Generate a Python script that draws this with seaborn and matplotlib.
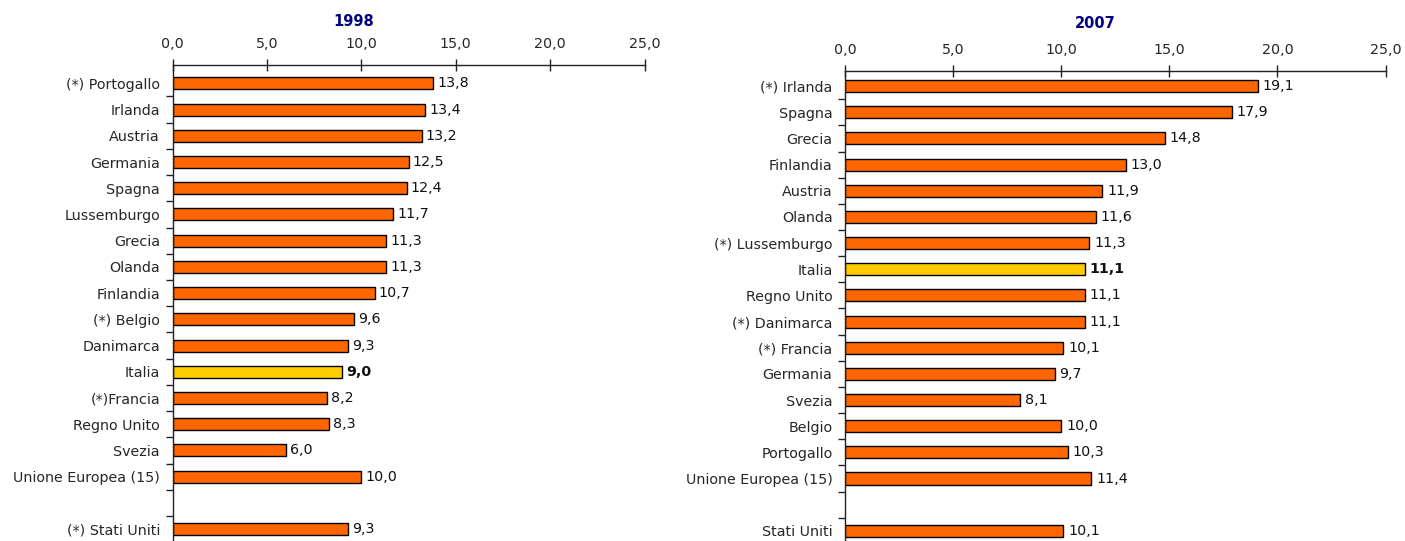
import matplotlib
matplotlib.use('Agg')
import matplotlib.pyplot as plt
import numpy as np
import pandas as pd
import seaborn as sns

sns.set_theme(style='white')
plt.rcParams['font.family'] = ['DejaVu Sans']

# dati 1998
paesi_1998 = ['(*) Portogallo', 'Irlanda', 'Austria', 'Germania', 'Spagna', 'Lussemburgo',
              'Grecia', 'Olanda', 'Finlandia', '(*) Belgio', 'Danimarca', 'Italia',
              '(*)Francia', 'Regno Unito', 'Svezia', 'Unione Europea (15)', '(*) Stati Uniti']
valori_1998 = [13.8, 13.4, 13.2, 12.5, 12.4, 11.7, 11.3, 11.3, 10.7, 9.6, 9.3, 9.0,
               8.2, 8.3, 6.0, 10.0, 9.3]

# dati 2007
paesi_2007 = ['(*) Irlanda', 'Spagna', 'Grecia', 'Finlandia', 'Austria', 'Olanda',
              '(*) Lussemburgo', 'Italia', 'Regno Unito', '(*) Danimarca', '(*) Francia',
              'Germania', 'Svezia', 'Belgio', 'Portogallo', 'Unione Europea (15)', 'Stati Uniti']
valori_2007 = [19.1, 17.9, 14.8, 13.0, 11.9, 11.6, 11.3, 11.1, 11.1, 11.1, 10.1,
               9.7, 8.1, 10.0, 10.3, 11.4, 10.1]

x_ticks = [0, 5, 10, 15, 20, 25]

ARANCIO = '#FF6600'
GIALLO = '#FFCC00'
BLU = '#000080'
W, H = 1405, 541
FS = 10.3


def fmt(v):
    return f'{v:.1f}'.replace('.', ',')


def draw_panel(ax, paesi, valori, ylim):
    df = pd.DataFrame({'paese': paesi, 'valore': valori})
    # riga vuota prima degli Stati Uniti
    order = paesi[:-1] + [' '] + paesi[-1:]
    palette = {p: (GIALLO if p == 'Italia' else ARANCIO) for p in paesi}
    sns.barplot(data=df, x='valore', y='paese', hue='paese', order=order, palette=palette,
                legend=False, width=0.46, edgecolor='black', linewidth=1.0,
                saturation=1, ax=ax)

    for cont in ax.containers:
        for bar in cont:
            w = bar.get_width()
            if np.isnan(w):
                continue
            yc = bar.get_y() + bar.get_height() / 2
            lab = order[int(round(yc))]
            ax.text(w + 0.22, yc, fmt(w), va='center', ha='left', fontsize=FS,
                    fontweight='bold' if lab == 'Italia' else 'normal', color='#111111')

    ax.set_xlim(0, 25)
    ax.set_ylim(*ylim)
    ax.set_xticks(x_ticks)
    ax.set_xticklabels([fmt(t) for t in x_ticks], fontsize=FS)
    ax.xaxis.tick_top()
    ax.tick_params(axis='x', direction='inout', length=8, width=1, color='#222222', pad=6)
    ax.set_yticks(range(len(order)))
    ax.set_yticklabels(order, fontsize=FS)
    ax.set_yticks(np.arange(0.5, len(order), 1), minor=True)
    ax.tick_params(axis='y', which='major', length=0, pad=9)
    ax.tick_params(axis='y', which='minor', direction='out', length=5, width=1,
                   color='#222222', left=True)
    ax.set_xlabel('')
    ax.set_ylabel('')
    for s in ['right', 'bottom']:
        ax.spines[s].set_visible(False)
    for s in ['top', 'left']:
        ax.spines[s].set_color('#222222')
        ax.spines[s].set_linewidth(1)


fig = plt.figure(figsize=(W / 100, H / 100), dpi=100)

ax1 = fig.add_axes([172.5 / W, (H - 542.2) / H, 472 / W, (542.2 - 65) / H])
draw_panel(ax1, paesi_1998, valori_1998, (17.45, -0.7))

ax2 = fig.add_axes([845 / W, (H - 543.9) / H, 540.5 / W, (543.9 - 71) / H])
draw_panel(ax2, paesi_2007, valori_2007, (17.35, -0.58))

fig.text(354 / W, 1 - 22 / H, '1998', ha='center', va='center', fontsize=10.5,
         fontweight='bold', color=BLU)
fig.text(1095 / W, 1 - 24 / H, '2007', ha='center', va='center', fontsize=10.5,
         fontweight='bold', color=BLU)

fig.savefig('out.png', dpi=100)
